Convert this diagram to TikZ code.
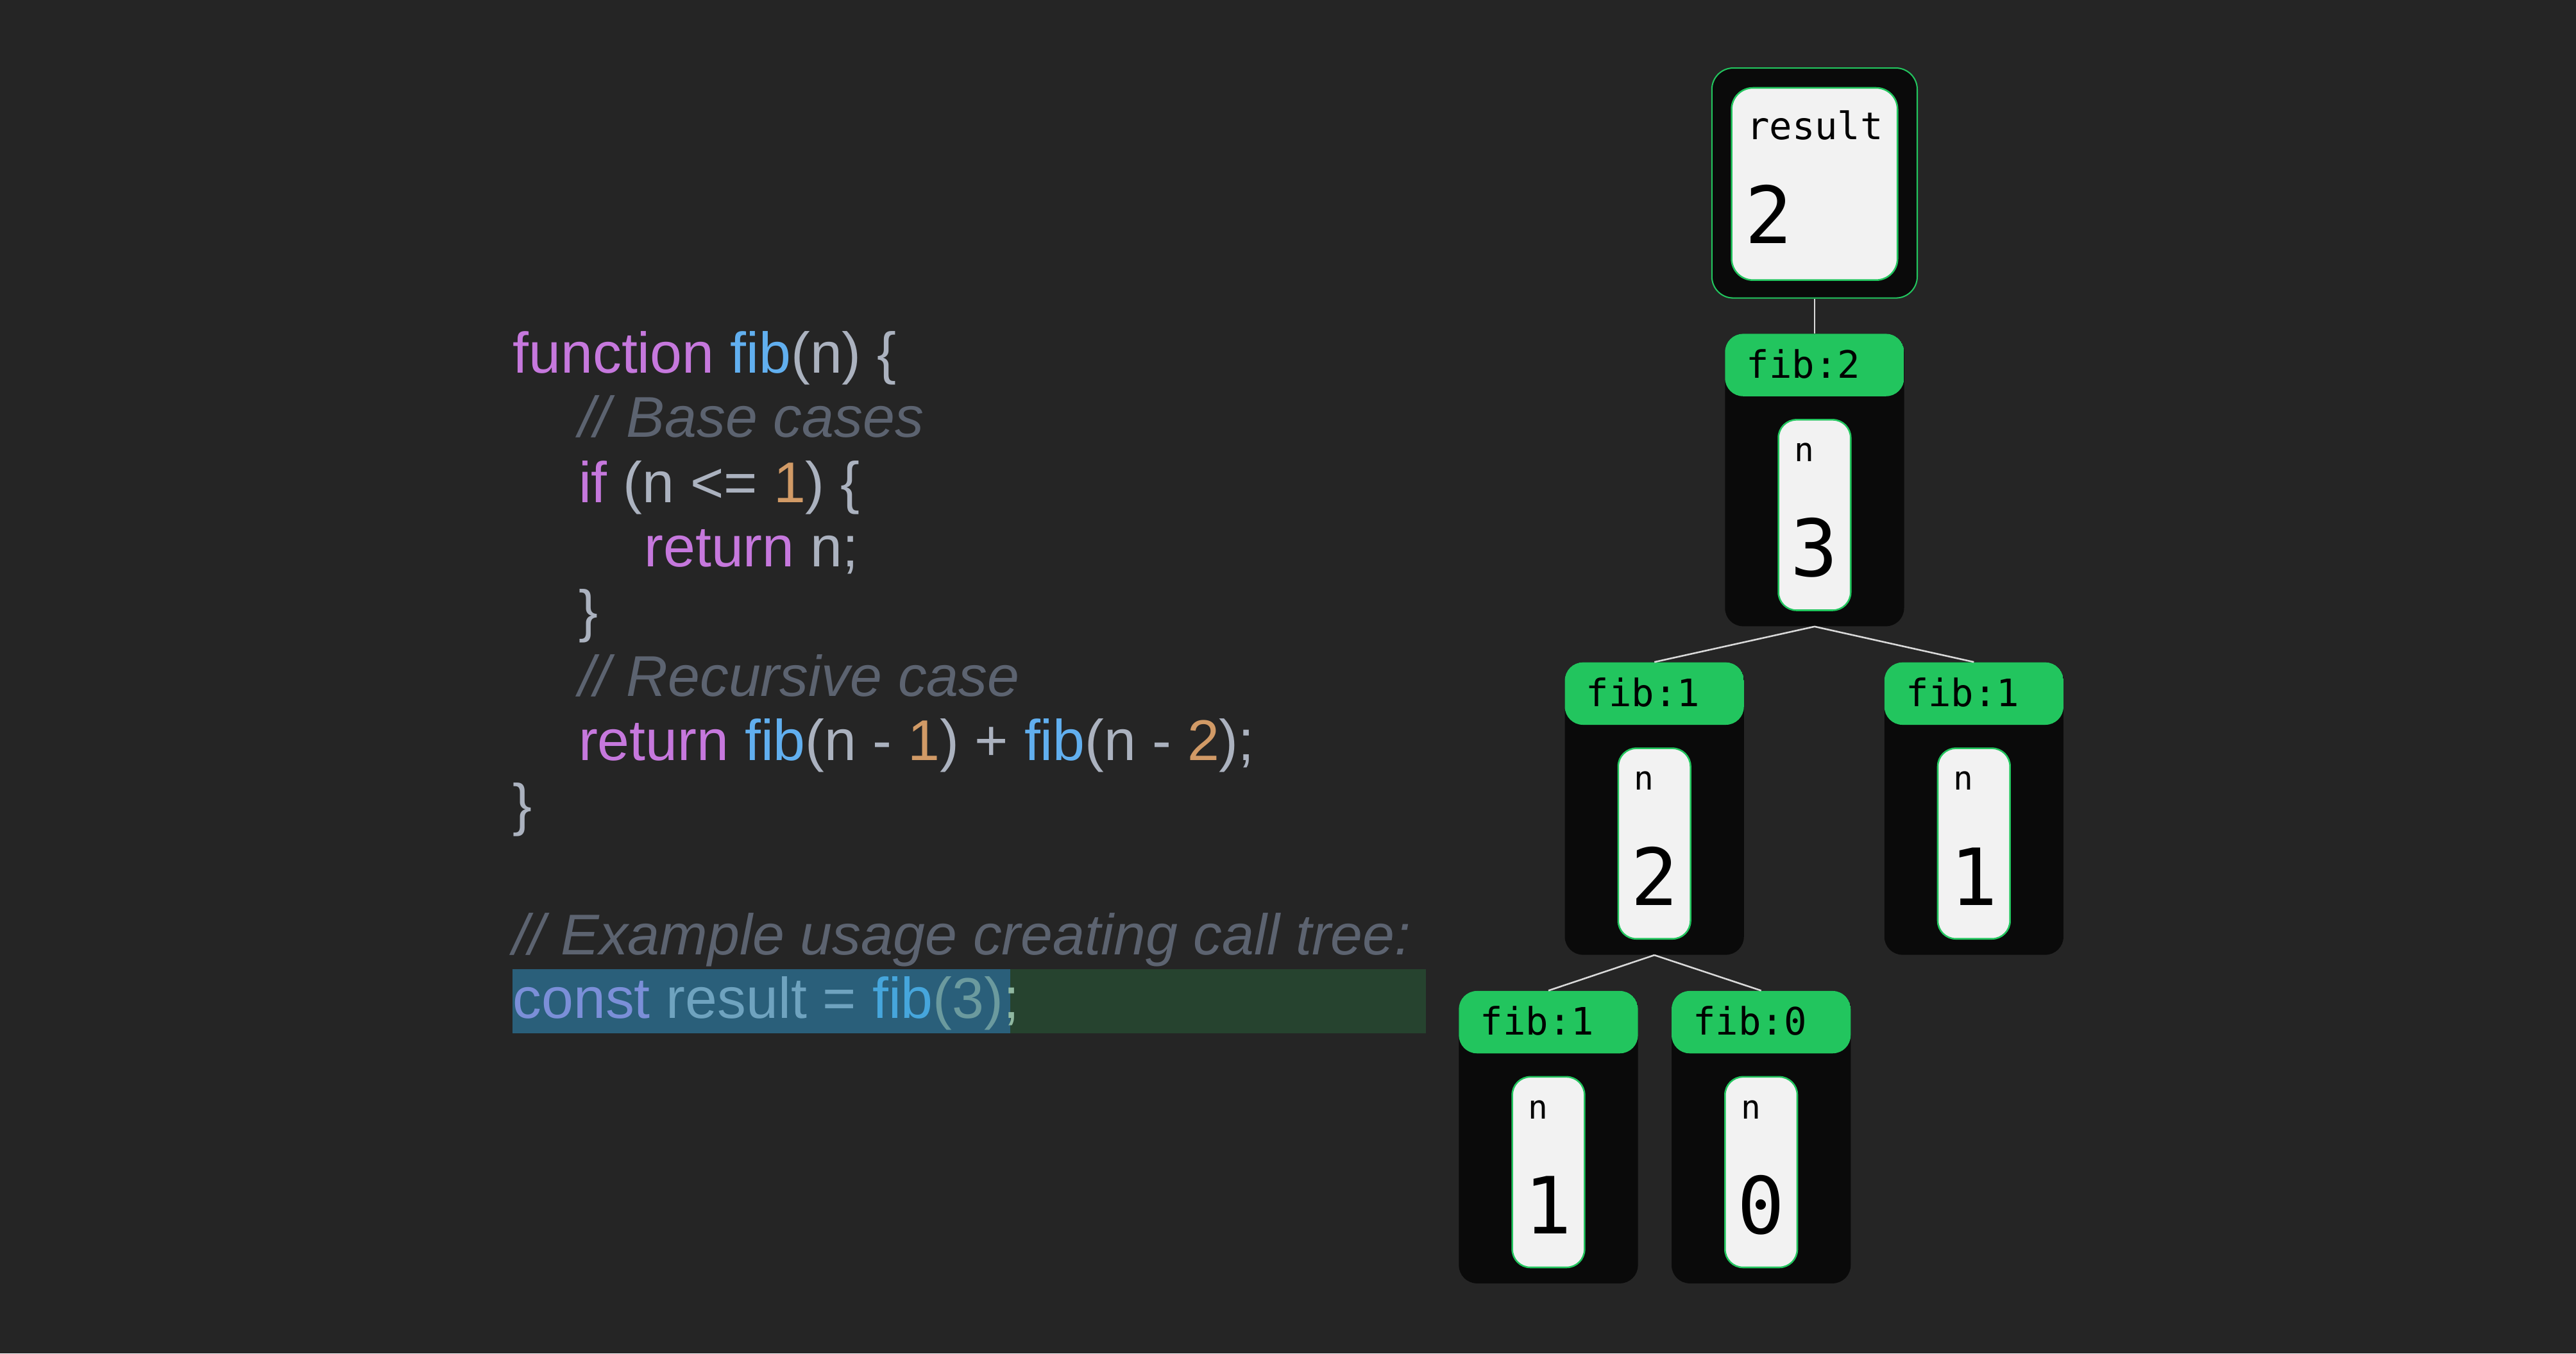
\documentclass[tikz,border=0pt]{standalone}
\usepackage{fontspec}
\setmainfont{Liberation Sans}
\newfontfamily\mono{DejaVu Sans Mono}
\definecolor{bg}{HTML}{252525}
\definecolor{kw}{HTML}{C678DD}
\definecolor{fn}{HTML}{61AFEF}
\definecolor{tx}{HTML}{ABB2BF}
\definecolor{nm}{HTML}{D19A66}
\definecolor{cm}{HTML}{5C6370}
\definecolor{gr}{HTML}{22C55E}
\definecolor{fr}{HTML}{0A0A0A}
\definecolor{lt}{HTML}{F2F2F2}
\definecolor{hlg}{HTML}{26432F}
\definecolor{hlb}{HTML}{2A5F7A}
\begin{document}
\begin{tikzpicture}[x=1pt,y=-1pt,
 code/.style={anchor=base west,inner sep=0,font=\fontsize{35}{40}\selectfont,text=tx},
 frm/.style={draw=none,fill=fr,rounded corners=11pt,minimum width=109pt,minimum height=178pt,inner sep=0,anchor=north,
   path picture={\fill[gr] (path picture bounding box.north west) rectangle ([yshift=-38pt]path picture bounding box.north east);}},
 box/.style={draw=gr,line width=1pt,fill=lt,rounded corners=11pt,minimum width=44pt,minimum height=116pt,inner sep=0,anchor=north},
 lab/.style={anchor=base west,inner sep=0,font=\mono\fontsize{23}{26}\selectfont,text=black},
 nlab/.style={anchor=base west,inner sep=0,font=\mono\fontsize{20}{24}\selectfont,text=black},
 big/.style={anchor=base,inner sep=0,font=\mono\fontsize{48}{52}\selectfont,text=black},
 conn/.style={draw=white!85!black,line width=1pt}]
\fill[bg] (0,0) rectangle (1568,824);
% highlight
\fill[hlg] (312,590) rectangle (868,629);
\fill[hlb] (312,590) rectangle (615,629);
% code
\node[code] (c1) at (312,227) {\textcolor{kw}{function} \textcolor{fn}{fib}(n) \{};
\node[code] (c2) at (352,266) {\textcolor{cm}{\itshape // Base cases}};
\node[code] (c3) at (352,306) {\textcolor{kw}{if} (n <= \textcolor{nm}{1}) \{};
\node[code] (c4) at (392,345) {\textcolor{kw}{return} n;};
\node[code] (c5) at (352,384) {\}};
\node[code] (c6) at (352,424) {\textcolor{cm}{\itshape // Recursive case}};
\node[code] (c7) at (352,463) {\textcolor{kw}{return} \textcolor{fn}{fib}(n - \textcolor{nm}{1}) + \textcolor{fn}{fib}(n - \textcolor{nm}{2});};
\node[code] (c8) at (312,502) {\}};
\node[code] (c9) at (312,581) {\textcolor{cm}{\itshape // Example usage creating call tree:}};
\node[code] (c10) at (312,620) {\textcolor[HTML]{7B8FD8}{const} \textcolor[HTML]{6FA3BF}{result =} \textcolor[HTML]{46A6DC}{fib}\textcolor[HTML]{6B9A9E}{(3)}\textcolor[HTML]{8FB8A0}{;}};
% result
\node[draw=gr,line width=0.8pt,fill=fr,rounded corners=13pt,minimum width=125pt,minimum height=140pt,anchor=north,inner sep=0] (res) at (1104.5,41) {};
\node[draw=gr,line width=1pt,fill=lt,rounded corners=13pt,minimum width=101pt,minimum height=117pt,anchor=north,inner sep=0] (resin) at (1104.5,53) {};
\node[lab] (rl) at (1063,85) {result};
\node[anchor=base west,inner sep=0,font=\mono\fontsize{48}{52}\selectfont] (rv) at (1062,148) {2};
% frames
\newcommand{\fibframe}[5]{%
 \node[frm] (#1) at (#2,#3) {};
 \node[lab] (#1l) at ([xshift=13pt,yshift=-27pt]#1.north west) {#4};
 \node[box] (#1b) at ([yshift=-52pt]#1.north) {};
 \node[nlab] (#1n) at ([xshift=10pt,yshift=-26pt]#1b.north west) {n};
 \node[big] (#1v) at ([yshift=-96pt]#1b.north) {#5};
}
\fibframe{fa}{1104.5}{203}{fib:2}{3}
\fibframe{fb}{1007}{403}{fib:1}{2}
\fibframe{fc}{1201.5}{403}{fib:1}{1}
\fibframe{fd}{942.5}{603}{fib:1}{1}
\fibframe{fe}{1072}{603}{fib:0}{0}
\draw[conn] (res.south) -- (fa.north);
\draw[conn] (fa.south) -- (fb.north);
\draw[conn] (fa.south) -- (fc.north);
\draw[conn] (fb.south) -- (fd.north);
\draw[conn] (fb.south) -- (fe.north);
\end{tikzpicture}
\end{document}
